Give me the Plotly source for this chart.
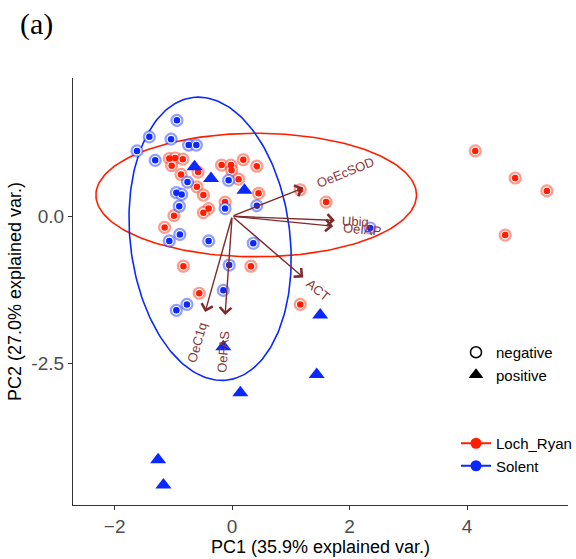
import numpy as np
import plotly.graph_objects as go

# ---------------- data ----------------
loch_neg_x = [-1.07, -0.97, -0.84, -1.03, -0.87, -0.58, -0.18, -0.02, -0.01, 0.19, 0.42, 0.11,
              -0.60, -0.49, 0.45, -0.12, -0.40, -0.49, -0.99, -1.15, -0.83, 0.32, -0.56, 1.16,
              1.16, 1.60, 4.14, 4.82, 5.36, 4.65]
loch_neg_y = [0.98, 0.99, 0.97, 0.86, 0.71, 0.75, 0.87, 0.87, 0.78, 0.96, 0.85, 0.63,
              0.50, 0.36, 0.39, 0.24, 0.13, 0.06, 0.01, -0.19, -0.85, -0.85, -1.31, -1.50,
              0.45, 0.24, 1.11, 0.65, 0.43, -0.32]

sol_neg_x = [-0.94, -1.41, -1.04, -0.74, -0.61, -1.62, -1.31, -0.76, -0.06, -0.95, -0.86, -0.90,
             -0.12, 0.42, -0.89, -1.07, -0.40, 0.36, -0.05, -0.15, -0.77, -0.95, 2.35]
sol_neg_y = [1.63, 1.35, 1.31, 1.21, 1.21, 1.11, 0.95, 0.58, 0.61, 0.40, 0.37, 0.17,
             0.13, 0.18, -0.31, -0.42, -0.42, -0.46, -0.83, -1.26, -1.50, -1.60, -0.20]

sol_pos_x = [-0.64, -0.36, 0.21, 1.50, -0.15, 1.44, 0.14, -1.26, -1.17]
sol_pos_y = [0.84, 0.64, 0.44, -1.68, -2.22, -2.69, -3.00, -4.14, -4.57]

var_names = ["OeEcSOD", "Ubiq", "OeIAP", "ACT", "OeC1q", "OeFAS"]
var_x = [1.21, 1.75, 1.72, 1.21, -0.46, -0.12]
var_y = [0.48, -0.07, -0.17, -1.04, -1.63, -1.68]
lab_x = [1.93, 2.10, 2.21, 1.47, -0.60, -0.15]
lab_y = [0.75, -0.09, -0.22, -1.26, -2.14, -2.30]
lab_angle = [-22, 2, 5, 40, -74, -86]

# ellipses: center x, center y, semi-major, semi-minor, angle (deg)
ell_loch = [0.41, 0.36, 2.73, 1.05, 0.0]
ell_sol = [-0.375, -0.383, 2.42, 1.36, 96.9]

x_ticks = [-2, 0, 2, 4]
y_ticks = [0.0, -2.5]
y_tick_text = ["0.0", "-2.5"]

RED = "#FF1E00"
BLUE = "#0A28FF"
RED_RING = "rgba(255,30,0,0.45)"
BLUE_RING = "rgba(10,40,255,0.45)"
ARROW = "#7E2A2A"
LABEL = "#8A3434"


def ellipse(p, n=200):
    cx, cy, a, b, ang = p
    t = np.linspace(0, 2 * np.pi, n)
    th = np.deg2rad(ang)
    x = cx + a * np.cos(t) * np.cos(th) - b * np.sin(t) * np.sin(th)
    y = cy + a * np.cos(t) * np.sin(th) + b * np.sin(t) * np.cos(th)
    return x, y


fig = go.Figure()

ex, ey = ellipse(ell_loch)
fig.add_trace(go.Scatter(x=ex, y=ey, mode="lines", line=dict(color=RED, width=1.6),
                         showlegend=False, hoverinfo="skip"))
ex, ey = ellipse(ell_sol)
fig.add_trace(go.Scatter(x=ex, y=ey, mode="lines", line=dict(color=BLUE, width=1.6),
                         showlegend=False, hoverinfo="skip"))

for xs, ys, col, ring in [(loch_neg_x, loch_neg_y, RED, RED_RING),
                          (sol_neg_x, sol_neg_y, BLUE, BLUE_RING)]:
    fig.add_trace(go.Scatter(x=xs, y=ys, mode="markers",
                             marker=dict(symbol="circle", size=11, color="white",
                                         line=dict(color=ring, width=2.2)),
                             showlegend=False))
    fig.add_trace(go.Scatter(x=xs, y=ys, mode="markers",
                             marker=dict(symbol="circle", size=6.5, color=col,
                                         line=dict(width=0)),
                             showlegend=False))

fig.add_trace(go.Scatter(x=sol_pos_x, y=sol_pos_y, mode="markers",
                         marker=dict(symbol="triangle-up", size=14, color=BLUE,
                                     line=dict(width=0)),
                         showlegend=False))

# legend entries
fig.add_trace(go.Scatter(x=[None], y=[None], mode="markers", name="negative",
                         marker=dict(symbol="circle-open", size=11, color="black",
                                     line=dict(width=1.5)), legend="legend"))
fig.add_trace(go.Scatter(x=[None], y=[None], mode="markers", name="positive",
                         marker=dict(symbol="triangle-up", size=13, color="black"),
                         legend="legend"))
fig.add_trace(go.Scatter(x=[None], y=[None], mode="lines+markers", name="Loch_Ryan",
                         marker=dict(symbol="circle", size=11, color=RED),
                         line=dict(color=RED, width=2), legend="legend2"))
fig.add_trace(go.Scatter(x=[None], y=[None], mode="lines+markers", name="Solent",
                         marker=dict(symbol="circle", size=11, color=BLUE),
                         line=dict(color=BLUE, width=2), legend="legend2"))

annotations = []
for vx, vy in zip(var_x, var_y):
    annotations.append(dict(x=vx, y=vy, ax=0, ay=0, xref="x", yref="y", axref="x", ayref="y",
                            text="", showarrow=True, arrowhead=4, arrowsize=1.6,
                            arrowwidth=1.4, arrowcolor=ARROW))
for name, lx, ly, ang in zip(var_names, lab_x, lab_y, lab_angle):
    annotations.append(dict(x=lx, y=ly, xref="x", yref="y", text=name, showarrow=False,
                            textangle=ang, font=dict(size=13, color=LABEL,
                                                     family="Liberation Sans")))

W, H = 576, 559
L, R, T, B = 73, 8, 78, 54
PW, PH = W - L - R, H - T - B

annotations.append(dict(x=(18 - L) / PW, y=1 + (T - 5) / PH, xref="paper", yref="paper",
                        text="(a)", showarrow=False, xanchor="left", yanchor="top",
                        font=dict(size=30, color="black", family="Liberation Serif")))

fig.update_layout(
    width=W, height=H,
    margin=dict(l=L, r=R, t=T, b=B, autoexpand=False),
    paper_bgcolor="white", plot_bgcolor="white",
    font=dict(family="Liberation Sans", color="black"),
    annotations=annotations,
    legend=dict(x=(456 - L) / PW, y=(505 - 336) / PH, xanchor="left", yanchor="top",
                bgcolor="rgba(0,0,0,0)", font=dict(size=15, color="black")),
    legend2=dict(x=(456 - L) / PW, y=(505 - 427) / PH, xanchor="left", yanchor="top",
                 bgcolor="rgba(0,0,0,0)", font=dict(size=15, color="black")),
    xaxis=dict(range=[-2.71, 5.72], tickvals=x_ticks, showgrid=False, zeroline=False,
               showline=True, linecolor="#333333", linewidth=1.2, ticks="outside",
               ticklen=4, tickcolor="#333333", tickfont=dict(size=19, color="#4D4D4D"),
               title=dict(text="PC1 (35.9% explained var.)", font=dict(size=18, color="black"),
                          standoff=4),
               automargin=False),
    yaxis=dict(range=[-4.91, 2.35], tickvals=y_ticks, ticktext=y_tick_text, showgrid=False,
               zeroline=False, showline=True, linecolor="#333333", linewidth=1.2,
               ticks="outside", ticklen=4, tickcolor="#333333",
               tickfont=dict(size=19, color="#4D4D4D"),
               title=dict(text="PC2 (27.0% explained var.)", font=dict(size=18, color="black"),
                          standoff=5),
               automargin=False),
)

fig.write_html("out.html")
